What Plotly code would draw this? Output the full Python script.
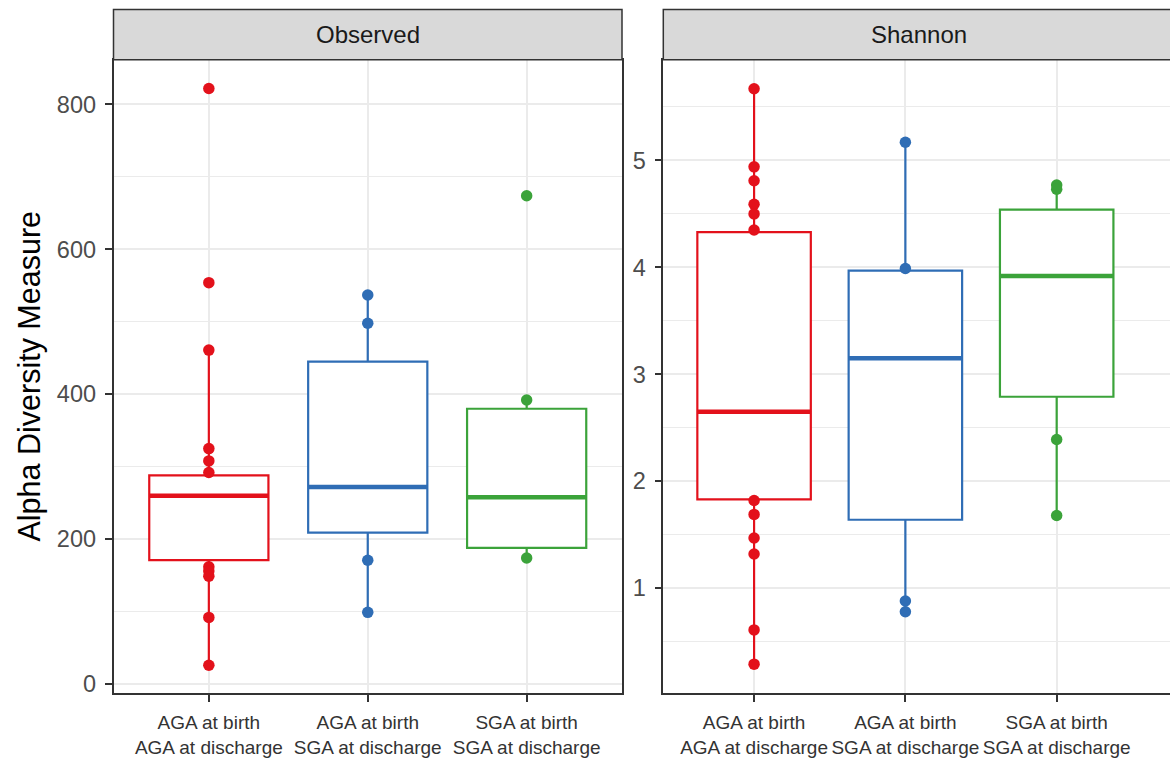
import plotly.graph_objects as go

# ---------------- data ----------------
groups = ["AGA at birth<br>AGA at discharge",
          "AGA at birth<br>SGA at discharge",
          "SGA at birth<br>SGA at discharge"]
colors = ["#E3111B", "#2F6DB5", "#3BA33A"]

# Observed richness: box statistics per group
obs_q1 = [171, 209, 188]
obs_median = [260, 272, 258]
obs_q3 = [288, 445, 380]
obs_lower = [26, 99, 174]
obs_upper = [461, 537, 392]
# Observed: visible sample points per group
obs_pts_1 = [822, 554, 461, 325, 308, 292, 162, 156, 149, 92, 26]
obs_pts_2 = [537, 498, 171, 99]
obs_pts_3 = [674, 392, 174]

# Shannon diversity: box statistics per group
sha_q1 = [1.83, 1.64, 2.79]
sha_median = [2.65, 3.15, 3.92]
sha_q3 = [4.33, 3.97, 4.54]
sha_lower = [0.29, 0.78, 1.68]
sha_upper = [5.67, 5.17, 4.77]
# Shannon: visible sample points per group
sha_pts_1 = [5.67, 4.94, 4.81, 4.59, 4.50, 4.35, 1.82, 1.69, 1.47, 1.32, 0.61, 0.29]
sha_pts_2 = [5.17, 3.99, 0.88, 0.78]
sha_pts_3 = [4.77, 4.73, 2.39, 1.68]

panel_titles = ["Observed", "Shannon"]
y_title = "Alpha Diversity Measure"

# ---------------- figure ----------------
W, H = 1170, 760
FONT = "Arial, 'Liberation Sans', sans-serif"
BOX_W = 0.75

fig = go.Figure()

panels = [
    dict(ax="x", ay="y", q1=obs_q1, med=obs_median, q3=obs_q3, lo=obs_lower, hi=obs_upper,
         pts=[obs_pts_1, obs_pts_2, obs_pts_3]),
    dict(ax="x2", ay="y2", q1=sha_q1, med=sha_median, q3=sha_q3, lo=sha_lower, hi=sha_upper,
         pts=[sha_pts_1, sha_pts_2, sha_pts_3]),
]

for p in panels:
    for i in range(3):
        pos = i + 1
        c = colors[i]
        fig.add_trace(go.Box(
            x=[pos], q1=[p["q1"][i]], median=[p["med"][i]], q3=[p["q3"][i]],
            lowerfence=[p["lo"][i]], upperfence=[p["hi"][i]],
            width=BOX_W, whiskerwidth=0, fillcolor="white",
            line=dict(color=c, width=2.2), boxpoints=False,
            xaxis=p["ax"], yaxis=p["ay"], showlegend=False, hoverinfo="skip"))
        fig.add_trace(go.Scatter(
            x=[pos - BOX_W / 2, pos + BOX_W / 2], y=[p["med"][i], p["med"][i]],
            mode="lines", line=dict(color=c, width=4.5),
            xaxis=p["ax"], yaxis=p["ay"], showlegend=False, hoverinfo="skip"))
        fig.add_trace(go.Scatter(
            x=[pos] * len(p["pts"][i]), y=p["pts"][i], mode="markers",
            marker=dict(color=c, size=11.5),
            xaxis=p["ax"], yaxis=p["ay"], showlegend=False))

# panel geometry (pixels)
L1, R1 = 113.5, 622.0
L2, R2 = 663.3, 1170.0
TOP, BOT = 60.0, 697.0
STRIP_TOP = 9.5

def px(v):
    return v / W

def py(v):
    return 1 - v / H

grid = "#EBEBEB"
border = "#333333"
tickfont = dict(family=FONT, size=23.5, color="#4D4D4D")
xtickfont = dict(family=FONT, size=19, color="#333333")

common_x = dict(tickmode="array", tickvals=[1, 2, 3], ticktext=groups,
                showgrid=True, gridcolor=grid, gridwidth=1.6, zeroline=False,
                showline=True, mirror=True, linecolor=border, linewidth=1.5,
                ticks="outside", ticklen=7, tickwidth=1.5, tickcolor=border,
                tickfont=xtickfont, ticklabelstandoff=4)
common_y = dict(showgrid=True, gridcolor=grid, gridwidth=1.6, zeroline=False,
                showline=True, linecolor=border, linewidth=1.5,
                ticks="outside", ticklen=7, tickwidth=1.5, tickcolor=border,
                tickfont=tickfont, ticklabelstandoff=4)

px_per_unit_right = 151.3
right_max = 0.4 + (R2 - L2) / px_per_unit_right

fig.update_layout(
    width=W, height=H,
    margin=dict(l=0, r=0, t=0, b=0),
    paper_bgcolor="white", plot_bgcolor="white",
    showlegend=False,
    xaxis=dict(domain=[px(L1), px(R1)], range=[0.4, 3.6], anchor="y", **common_x),
    yaxis=dict(domain=[py(BOT), py(TOP)], range=[-12.75, 861.75], anchor="x",
               tickvals=[0, 200, 400, 600, 800], mirror=True,
               minor=dict(tickvals=[100, 300, 500, 700], showgrid=True, gridcolor=grid,
                          gridwidth=0.8, ticks=""),
               **common_y),
    xaxis2=dict(domain=[px(L2), px(R2)], range=[0.4, right_max], anchor="y2", **common_x),
    yaxis2=dict(domain=[py(BOT), py(TOP)], range=[0.017, 5.942], anchor="x2",
                tickvals=[1, 2, 3, 4, 5], mirror=False,
                minor=dict(tickvals=[0.5, 1.5, 2.5, 3.5, 4.5, 5.5], showgrid=True,
                           gridcolor=grid, gridwidth=0.8, ticks=""),
                **common_y),
)

# facet strips
strips = [(L1, R1, 368.0), (L2, R2 + 8, 919.0)]
for (x0, x1, cx), title in zip(strips, panel_titles):
    fig.add_shape(type="rect", xref="paper", yref="paper",
                  x0=px(x0), x1=px(x1), y0=py(TOP), y1=py(STRIP_TOP),
                  fillcolor="#D9D9D9", line=dict(color=border, width=1.5), layer="above")
    fig.add_annotation(xref="paper", yref="paper", x=px(cx), y=py((TOP + STRIP_TOP) / 2),
                       text=title, showarrow=False, xanchor="center", yanchor="middle",
                       font=dict(family=FONT, size=24, color="#1A1A1A"))

# y-axis title
fig.add_annotation(xref="paper", yref="paper", x=px(30), y=py((TOP + BOT) / 2),
                   text=y_title, textangle=-90, showarrow=False,
                   xanchor="center", yanchor="middle",
                   font=dict(family=FONT, size=30.5, color="#000000"))

fig.write_html("out.html",
               config={"displayModeBar": False},
               post_script="document.body.style.margin='0';document.body.style.overflow='hidden';")
